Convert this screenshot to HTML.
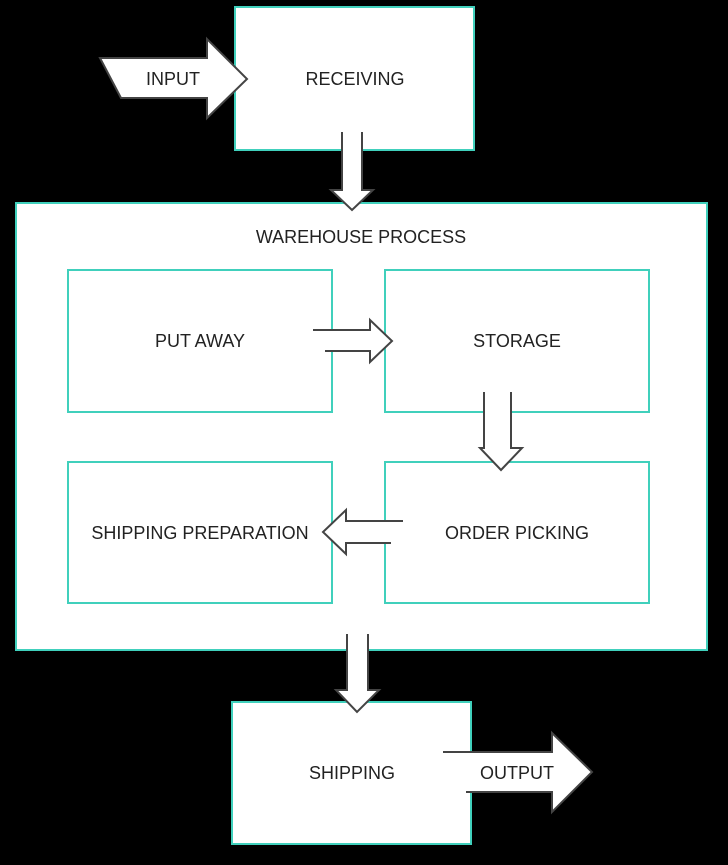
<!DOCTYPE html>
<html><head><style>body{margin:0;background:#000}svg{display:block}text{font-family:"Liberation Sans",sans-serif;font-size:18px;fill:#222;text-anchor:middle}</style></head>
<body>
<svg width="728" height="865" viewBox="0 0 728 865">
<rect width="728" height="865" fill="#000"/>
<g fill="#fff" stroke="#40d0bc" stroke-width="2">
<rect x="235" y="7" width="239" height="143"/>
<rect x="16" y="203" width="691" height="447"/>
<rect x="68" y="270" width="264" height="142"/>
<rect x="385" y="270" width="264" height="142"/>
<rect x="68" y="462" width="264" height="141"/>
<rect x="385" y="462" width="264" height="141"/>
<rect x="232" y="702" width="239" height="142"/>
</g>
<g fill="#fff" stroke="none">
<polygon points="100,58 207,58 207,39 247,79 207,118 207,98 121,98"/>
<polygon points="342,132 362,132 362,190 373,190 352,210 331,190 342,190"/>
<polygon points="313,330 370,330 370,320 392,341 370,362 370,351 325,351"/>
<polygon points="484,392 511,392 511,448 522,448 501,470 480,448 484,448"/>
<polygon points="403,521 346,521 346,510 323,532 346,554 346,543 391,543"/>
<polygon points="347,634 368,634 368,690 379,690 357,712 336,690 347,690"/>
<polygon points="443,752 552,752 552,733 592,772 552,812 552,792 466,792"/>
</g>
<g fill="none" stroke="#444" stroke-width="2" stroke-linejoin="miter">
<polygon points="100,58 207,58 207,39 247,79 207,118 207,98 121,98"/>
<polyline points="342,132 342,190 331,190 352,210 373,190 362,190 362,132"/>
<polyline points="313,330 370,330 370,320 392,341 370,362 370,351 325,351"/>
<polyline points="484,392 484,448 480,448 501,470 522,448 511,448 511,392"/>
<polyline points="403,521 346,521 346,510 323,532 346,554 346,543 391,543"/>
<polyline points="347,634 347,690 336,690 357,712 379,690 368,690 368,634"/>
<polyline points="443,752 552,752 552,733 592,772 552,812 552,792 466,792"/>
</g>
<text x="173" y="85">INPUT</text>
<text x="355" y="85">RECEIVING</text>
<text x="361" y="243">WAREHOUSE PROCESS</text>
<text x="200" y="347">PUT AWAY</text>
<text x="517" y="347">STORAGE</text>
<text x="200" y="539">SHIPPING PREPARATION</text>
<text x="517" y="539">ORDER PICKING</text>
<text x="352" y="779">SHIPPING</text>
<text x="517" y="779">OUTPUT</text>
</svg>
</body></html>
